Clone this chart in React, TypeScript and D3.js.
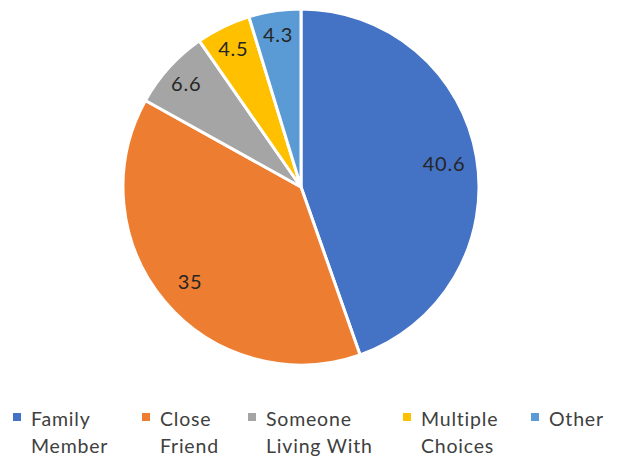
import React from "react";
import * as d3 from "d3";

const categories = ["Family Member", "Close Friend", "Someone Living With", "Multiple Choices", "Other"];
const legendLines = [["Family", "Member"], ["Close", "Friend"], ["Someone", "Living With"], ["Multiple", "Choices"], ["Other"]];
const values = [40.6, 35, 6.6, 4.5, 4.3];
const colors = ["#4472C4", "#ED7D31", "#A5A5A5", "#FFC000", "#5B9BD5"];
const legendX = [13, 142, 248, 403, 531];

export default function App() {
  const W = 617, H = 459;
  const cx = 301, cy = 187, r = 178;
  const pie = d3.pie<number>().sort(null).value((d) => d)(values);
  const arc = d3.arc<d3.PieArcDatum<number>>().innerRadius(0).outerRadius(r);
  const font = "Lato, 'Open Sans', sans-serif";
  return (
    <svg width={W} height={H} style={{ position: "absolute", left: 0, top: 0, background: "#fff" }}>
      <g transform={`translate(${cx},${cy})`}>
        {pie.map((p, i) => (
          <path key={i} d={arc(p) || ""} fill={colors[i]} stroke="#fff" strokeWidth={3} strokeLinejoin="round" />
        ))}
        {pie.map((p, i) => {
          const mid = (p.startAngle + p.endAngle) / 2;
          const f = values[i] > 10 ? 0.815 : 0.87;
          const x = Math.sin(mid) * r * f;
          const y = -Math.cos(mid) * r * f;
          return (
            <text key={i} x={x} y={y} textAnchor="middle" dominantBaseline="central" fontFamily={font} fontSize={20} letterSpacing={0.8} fill="#262626">
              {values[i]}
            </text>
          );
        })}
      </g>
      {categories.map((c, i) => (
        <g key={c}>
          <rect x={legendX[i]} y={413} width={8} height={8} fill={colors[i]} />
          {legendLines[i].map((ln, j) => (
            <text key={j} x={legendX[i] + 18} y={426 + j * 27} fontFamily={font} fontSize={19.5} letterSpacing={0.8} fill="#404040">
              {ln}
            </text>
          ))}
        </g>
      ))}
    </svg>
  );
}
